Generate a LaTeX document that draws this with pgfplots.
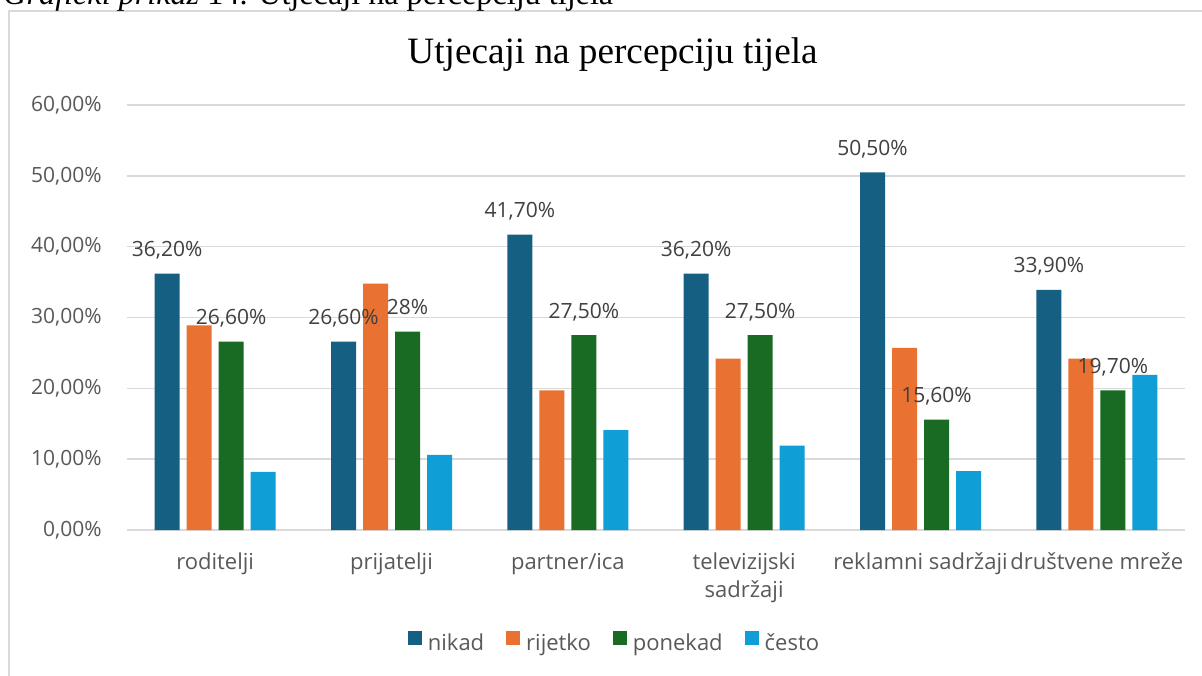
\documentclass[border=0pt]{standalone}
\usepackage{fontspec}
\setmainfont{Open Sans}
\newfontfamily\seriffont{Liberation Serif}
\usepackage{pgfplots}
\pgfplotsset{compat=1.18}
\definecolor{cNik}{HTML}{156082}
\definecolor{cRij}{HTML}{E97132}
\definecolor{cPon}{HTML}{196B24}
\definecolor{cCes}{HTML}{0F9ED5}
\definecolor{gridgray}{HTML}{D9D9D9}
\definecolor{tickgray}{HTML}{595959}
\definecolor{labelgray}{HTML}{404040}
\newcommand{\tfont}{\fontsize{10.5}{14}\selectfont}
\newcommand{\cfont}{\fontsize{11}{14}\selectfont}
\begin{document}
\begin{tikzpicture}
\fill[white] (0,0) rectangle (601pt,337.5pt);
\draw[color=gridgray, line width=1pt] (4.5pt,-2pt) -- (4.5pt,332pt) -- (603pt,332pt);
\node[anchor=base west, inner sep=0pt, font=\seriffont\fontsize{16.1}{19}\selectfont] at (1.5pt,335pt) {\textit{Grafički prikaz} 14. Utjecaji na percepciju tijela};
\node[anchor=base, inner sep=0pt, font=\seriffont\fontsize{18.6}{22}\selectfont] at (306.25pt,305.5pt) {Utjecaji na percepciju tijela};
\begin{axis}[
  at={(63.5pt,72.5pt)}, anchor=south west,
  scale only axis, width=529pt, height=212.5pt,
  xmin=-0.5, xmax=5.5, ymin=0, ymax=60,
  ybar=3.5pt, bar width=12.5pt,
  axis line style={draw=none},
  major tick length=0pt,
  ymajorgrids, grid style={color=gridgray, line width=0.8pt},
  ytick={0,10,20,30,40,50,60},
  yticklabels={{0,00\%},{10,00\%},{20,00\%},{30,00\%},{40,00\%},{50,00\%},{60,00\%}},
  yticklabel style={anchor=east, inner sep=0pt, xshift=-12.5pt, font=\tfont, text=tickgray},
  xtick={0,1,2,3,4,5},
  xticklabels={roditelji,prijatelji,partner/ica,{\begin{tabular}[t]{@{}c@{}}televizijski\\sadržaji\end{tabular}},reklamni sadržaji,društvene mreže},
  xticklabel style={anchor=base, inner sep=0pt, yshift=-19.5pt, font=\cfont, text=tickgray},
  clip=false,
  legend columns=4,
  legend style={at={(0.4617,-0.268)}, anchor=center, draw=none, fill=none, font=\cfont, text=tickgray,
    /tikz/every even column/.append style={column sep=9pt},
    /tikz/every odd column/.append style={column sep=1pt}},
  legend image code/.code={\fill[#1] (0pt,-0.3pt) rectangle (7pt,6.7pt);},
  nodes near coords style={anchor=base, inner sep=0pt, yshift=8.5pt, font=\tfont, text=labelgray},
]
\addplot[fill=cNik, draw=none, nodes near coords, point meta=explicit symbolic] coordinates {
 (0,36.2) [36,20\%] (1,26.6) [26,60\%] (2,41.7) [41,70\%] (3,36.2) [36,20\%] (4,50.5) [50,50\%] (5,33.9) [33,90\%]};
\addplot[fill=cRij, draw=none] coordinates {
 (0,28.9) (1,34.8) (2,19.7) (3,24.2) (4,25.7) (5,24.2)};
\addplot[fill=cPon, draw=none, nodes near coords, point meta=explicit symbolic] coordinates {
 (0,26.6) [26,60\%] (1,28) [28\%] (2,27.5) [27,50\%] (3,27.5) [27,50\%] (4,15.6) [15,60\%] (5,19.7) [19,70\%]};
\addplot[fill=cCes, draw=none] coordinates {
 (0,8.2) (1,10.6) (2,14.1) (3,11.9) (4,8.3) (5,21.9)};
\legend{nikad,rijetko,ponekad,često}
\end{axis}
\pgfresetboundingbox
\useasboundingbox (0,0) rectangle (601pt,337.5pt);
\end{tikzpicture}
\end{document}
